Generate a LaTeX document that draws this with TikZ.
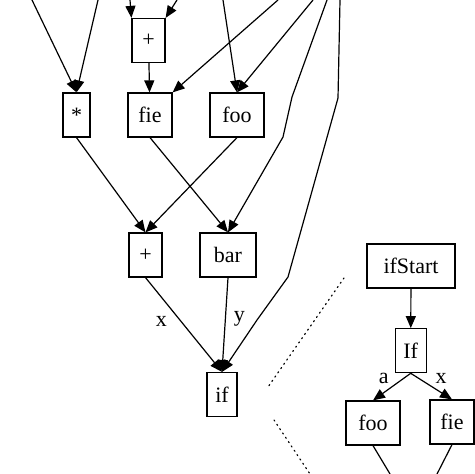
\documentclass[tikz,border=0pt]{standalone}
\usepackage{fontspec}
\setmainfont{Liberation Serif}
\usetikzlibrary{arrows.meta}
\begin{document}
\begin{tikzpicture}[x=0.5pt,y=-0.5pt,line width=0.6pt,
  >={Triangle[length=6pt,width=5pt]},
  font=\fontsize{11}{12}\selectfont]
\useasboundingbox (0,0) rectangle (474,474);

% nodes
\tikzstyle{box}=[shape=rectangle,draw,inner sep=0pt,minimum height=22pt]
\path (148.5,40.5) node[box,minimum width=16.5pt] (Plus) {+};
\path (76.5,115)   node[box,minimum width=13.5pt] (Mul) {*};
\path (150,115)    node[box,minimum width=22pt] (Fie) {fie};
\path (237,115)    node[box,minimum width=27pt] (Foo) {foo};
\path (145.5,255)  node[box,minimum width=16.5pt] (Sum) {+};
\path (228,255)    node[box,minimum width=28pt] (Bar) {bar};
\path (222,394.5)  node[box,minimum width=15pt] (If) {if};
\path (411,266)    node[box,minimum width=44pt] (IfStart) {ifStart};
\path (410.7,350.7) node[box,minimum width=15.5pt] (Cond) {If};
\path (373,423)    node[box,minimum width=27pt] (FooR) {foo};
\path (452,422)    node[box,minimum width=22pt] (FieR) {fie};

% loose ends
\coordinate (InA) at (32,0);
\coordinate (InB) at (98,0);
\coordinate (InC) at (130,0);
\coordinate (InD) at (177,0);
\coordinate (InE) at (223,0);
\coordinate (InF) at (278,0);
\coordinate (InG) at (313,0);
\coordinate (InH) at (327,0);
\coordinate (InI) at (340,0);
\coordinate (OutA) at (390,474);
\coordinate (OutB) at (437,474);

% edges
\tikzstyle{lbl}=[inner sep=0pt]

\draw[->] (InA) -- (Mul.north);
\draw[->] (InB) -- (Mul.north);
\draw[->] (InC) -- (Plus.north west);
\draw[->] (InD) -- (Plus.north east);
\draw[->] (InE) -- (Foo.north);
\draw[->] (InF) -- (Fie.north east);
\draw[->] (InG) -- (Foo.north);
\draw[->] (InH) -- (292,97) -- (283,137) -- (Bar.north);
\draw[->] (InI) -- (338,98) -- (288,277) -- (257,320) -- (If.north);
\draw[->] (Plus) -- (Fie);
\draw[->] (Mul.south) -- (Sum.north);
\draw[->] (Foo.south) -- (Sum.north);
\draw[->] (Fie.south) -- (Bar.north);
\draw[->] (Sum.south) -- node[lbl,pos=0.47,left=7pt] {x} (If.north);
\draw[->] (Bar.south) -- node[lbl,pos=0.44,right=4pt] {y} (If.north);

\draw[->] (IfStart) -- (Cond);
\draw[->] (Cond.south) -- node[lbl,pos=0.2,left=7pt] {a} (FooR.north);
\draw[->] (Cond.south) -- node[lbl,pos=0.2,right=8pt] {x} (FieR.north);
\draw (FooR.south) -- (OutA);
\draw (FieR.south) -- (OutB);

% separators
\draw[dotted,line cap=round] (344,278) -- (268,387);
\draw[dotted,line cap=round] (274,420) -- (310,474);

\end{tikzpicture}
\end{document}
